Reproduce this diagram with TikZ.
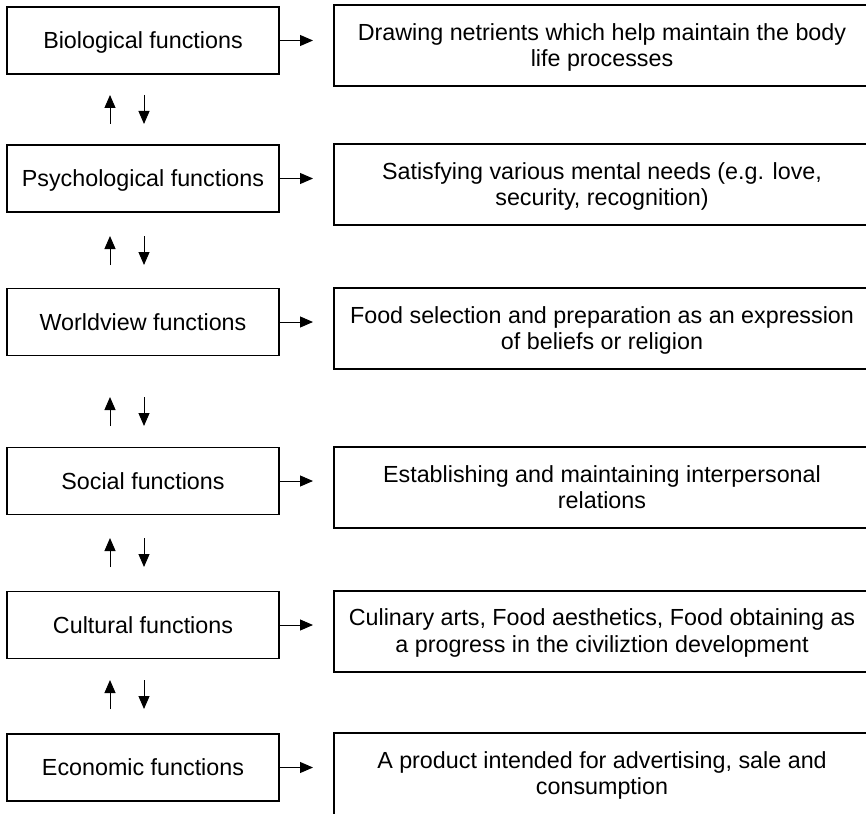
\documentclass[tikz,border=0pt]{standalone}
\usepackage{fontspec}
\setmainfont{Liberation Sans}
\usetikzlibrary{arrows.meta,calc}
\tikzset{
  lbox/.style={draw, line width=1.2pt, minimum width=272pt, minimum height=67pt,
    inner sep=0pt, outer sep=0pt, text height=16.8pt, text depth=0pt,
    font=\fontsize{23.3}{26}\selectfont},
  rbox/.style={draw, line width=2pt, minimum width=556pt, minimum height=81pt,
    inner sep=0pt, outer sep=0pt},
  rtext/.style={anchor=north, inner sep=0pt, align=center,
    font=\fontsize{23.3}{26.5}\selectfont},
  arr/.style={line width=1pt, -{Triangle[length=13pt,width=11pt]}},
}
\begin{document}
\begin{tikzpicture}[x=1pt,y=-1pt]
\useasboundingbox (0,0) rectangle (866,813);
\clip (0,0) rectangle (866,813);
\fill[white] (0,0) rectangle (866,813);

% left boxes
\node[lbox] (L1) at (143,40.5) {Biological functions};
\node[lbox] (L2) at (143,178.5) {Psychological functions};
\node[lbox] (L3) at (143,322) {Worldview functions};
\node[lbox] (L4) at (143,481) {Social functions};
\node[lbox] (L5) at (143,625) {Cultural functions};
\node[lbox] (L6) at (143,767.5) {Economic functions};

% right boxes (their right side runs off the picture)
\node[rbox] (R1) at (612,45.5) {};
\node[rbox] (R2) at (612,184.5) {};
\node[rbox] (R3) at (612,328.5) {};
\node[rbox] (R4) at (612,487.5) {};
\node[rbox] (R5) at (612,631) {};
\node[rbox, minimum height=100pt] (R6) at (612,783) {};

\node[rtext] (T1) at ([xshift=-10pt,yshift=-18pt]R1.north) {Drawing netrients which help maintain the body\\life processes};
\node[rtext] (T2) at ([xshift=-10pt,yshift=-18pt]R2.north) {Satisfying various mental needs (e.g. love,\\security, recognition)};
\node[rtext] (T3) at ([xshift=-10pt,yshift=-18pt]R3.north) {Food selection and preparation as an expression\\of beliefs or religion};
\node[rtext] (T4) at ([xshift=-10pt,yshift=-18pt]R4.north) {Establishing and maintaining interpersonal\\relations};
\node[rtext] (T5) at ([xshift=-10pt,yshift=-18pt]R5.north) {Culinary arts, Food aesthetics, Food obtaining as\\a progress in the civiliztion development};
\node[rtext] (T6) at ([xshift=-10pt,yshift=-18pt]R6.north) {A product intended for advertising, sale and\\consumption};

% horizontal arrows
\foreach \i in {1,...,6} {
  \draw[arr] (L\i.east) -- ($(R\i.west |- L\i.east)+(-21,0)$);
}

% vertical arrow pairs
\foreach \i/\a in {1/21, 2/24, 3/41.5, 4/23.5, 5/21.5} {
  \draw[arr] ($(L\i.south)+(-33,\a+29)$) -- ($(L\i.south)+(-33,\a)$);
  \draw[arr] ($(L\i.south)+(1,\a)$) -- ($(L\i.south)+(1,\a+29)$);
}
\end{tikzpicture}
\end{document}
